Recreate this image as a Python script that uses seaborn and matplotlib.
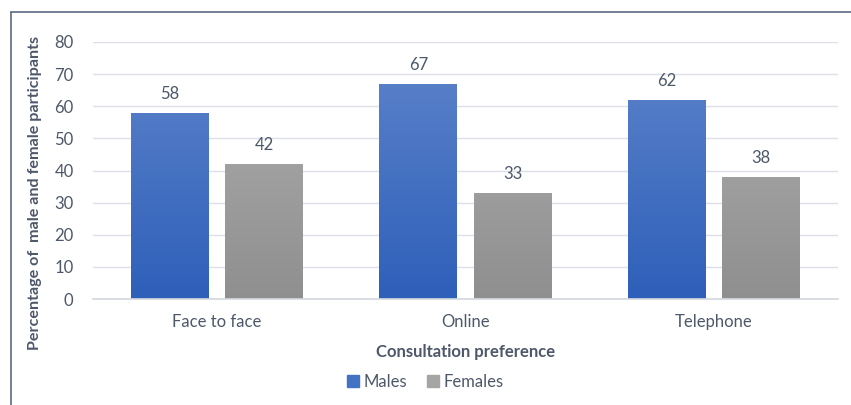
import numpy as np
import pandas as pd
import matplotlib
matplotlib.use("Agg")
import matplotlib.pyplot as plt
import seaborn as sns
from matplotlib.lines import Line2D
from matplotlib.colors import LinearSegmentedColormap

categories = ["Face to face", "Online", "Telephone"]
males = [58, 67, 62]
females = [42, 33, 38]
series_names = ["Males", "Females"]
y_ticks = [0, 10, 20, 30, 40, 50, 60, 70, 80]

df = pd.DataFrame({
    "cat": categories * 2,
    "val": males + females,
    "sex": [series_names[0]] * 3 + [series_names[1]] * 3,
})

sns.set_theme(style="white")
plt.rcParams["font.family"] = ["Lato", "DejaVu Sans"]
txt = "#4d586a"

fig = plt.figure(figsize=(8.51, 4.05), dpi=100)
ax = fig.add_axes([93/851, 1-299/405, 745/851, 257/405])

pal = {"Males": "#4472C4", "Females": "#A5A5A5"}
sns.barplot(data=df, x="cat", y="val", hue="sex", order=categories,
            hue_order=series_names, palette=pal, width=0.7, ax=ax,
            legend=False, saturation=1)

grads = {
    "Males": LinearSegmentedColormap.from_list("m", ["#2E5FB9", "#5F85CB"]),
    "Females": LinearSegmentedColormap.from_list("f", ["#8F8F8F", "#B0B0B0"]),
}

bw = 0.314
off = 0.19
patches = list(ax.patches)
for i, p in enumerate(patches):
    si = i // 3
    s = series_names[si]
    cx0 = p.get_x() + p.get_width() / 2
    grp = round(cx0)
    cx = grp + (-off if si == 0 else off)
    p.set_x(cx - bw / 2)
    p.set_width(bw)
    h = p.get_height()
    p.set_facecolor("none")
    p.set_edgecolor("none")
    grad = np.linspace(0, 1, 256).reshape(-1, 1)
    im = ax.imshow(grad, cmap=grads[s], origin="lower", aspect="auto",
                   extent=[cx - bw/2, cx + bw/2, 0, 80], zorder=2)
    im.set_clip_path(p)
    ax.annotate(f"{int(round(h))}", (cx, h), xytext=(0, 8),
                textcoords="offset points", ha="center", va="bottom",
                fontsize=12, color=txt)

ax.set_xlim(-0.5, 2.5)
ax.set_ylim(0, 80)
ax.set_yticks(y_ticks)
ax.yaxis.grid(True, color="#DCE0E8", linewidth=1.0)
ax.set_axisbelow(True)
for sp in ["top", "right", "left"]:
    ax.spines[sp].set_visible(False)
ax.spines["bottom"].set_color("#D5D9E0")
ax.tick_params(axis="both", length=0, labelsize=12, colors=txt)
ax.tick_params(axis="y", pad=14)
ax.tick_params(axis="x", pad=11)
ax.set_xlabel("Consultation preference", fontsize=12, fontweight="bold",
              color=txt, labelpad=10)
yl = ax.set_ylabel("Percentage of  male and female participants", fontsize=12,
                   fontweight="bold", color=txt)
ax.yaxis.set_label_coords((42 - 93) / 745, (299 - 193) / 257)
fig.canvas.draw()
ext = yl.get_window_extent(fig.canvas.get_renderer())
yl.set_fontsize(12 * 313.0 / ext.height)

handles = [plt.Rectangle((0, 0), 1, 1, color="#4472C4"),
           plt.Rectangle((0, 0), 1, 1, color="#A5A5A5")]
fig.legend(handles, series_names, loc="center", bbox_to_anchor=(0.5, 1-382/405),
           ncol=2, frameon=False, fontsize=12, labelcolor=txt,
           handlelength=0.7, handleheight=0.7, handletextpad=0.3,
           columnspacing=1.2)

fig.add_artist(Line2D([11/851, 1], [1-12/405, 1-12/405], color="#5A6B80",
                      linewidth=1.2, transform=fig.transFigure))
fig.add_artist(Line2D([11/851, 11/851], [0, 1-12/405], color="#5A6B80",
                      linewidth=1.2, transform=fig.transFigure))

fig.savefig("out.png", dpi=100)
